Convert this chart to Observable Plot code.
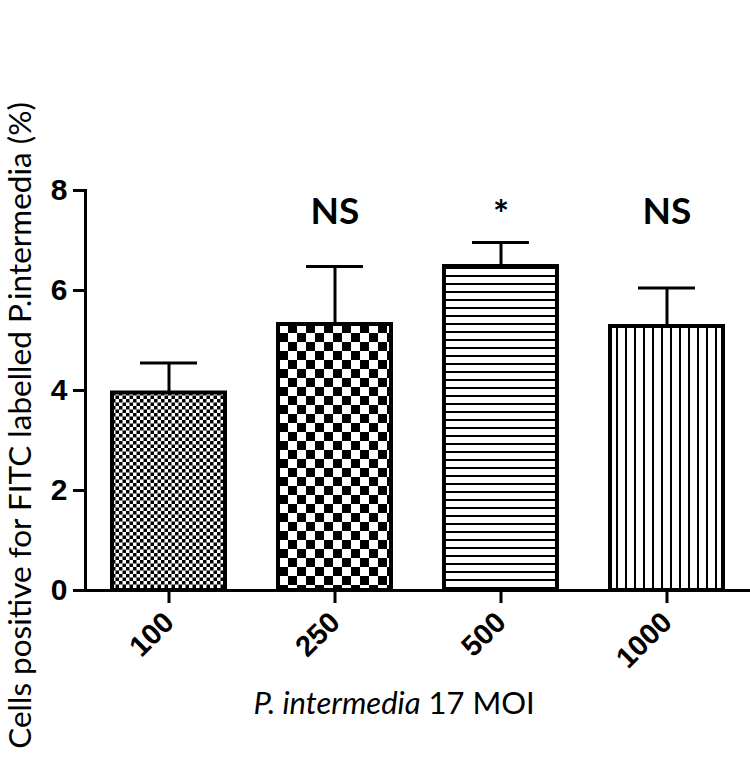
<!DOCTYPE html>
<html>
<head>
<meta charset="utf-8">
<script src="https://cdn.jsdelivr.net/npm/d3@7"></script>
<script src="https://cdn.jsdelivr.net/npm/@observablehq/plot@0.6"></script>
<style>
  html, body { margin: 0; padding: 0; background: #fff; }
  #chart svg { display: block; }
</style>
</head>
<body>
<svg width="0" height="0" style="position:absolute">
  <defs>
    <pattern id="pat0" width="7" height="7" patternUnits="userSpaceOnUse">
      <rect width="7" height="7" fill="#fff"/>
      <rect width="3.5" height="3.5" fill="#000"/>
      <rect x="3.5" y="3.5" width="3.5" height="3.5" fill="#000"/>
    </pattern>
    <pattern id="pat1" width="18" height="18" patternUnits="userSpaceOnUse">
      <rect width="18" height="18" fill="#fff"/>
      <rect width="9" height="9" fill="#000"/>
      <rect x="9" y="9" width="9" height="9" fill="#000"/>
    </pattern>
    <pattern id="pat2" width="8" height="8" patternUnits="userSpaceOnUse">
      <rect width="8" height="8" fill="#fff"/>
      <rect y="3" width="8" height="2" fill="#000"/>
    </pattern>
    <pattern id="pat3" width="9" height="9" patternUnits="userSpaceOnUse">
      <rect width="9" height="9" fill="#fff"/>
      <rect x="4" width="2" height="9" fill="#000"/>
    </pattern>
  </defs>
</svg>
<div id="chart"></div>
<script>
// ---- data ----
const categories = ["100", "250", "500", "1000"];
const means      = [3.95, 5.32, 6.48, 5.28];
const sems       = [0.60, 1.16, 0.48, 0.77];
const sigLabels  = ["", "NS", "*", "NS"];
const yTicks     = [0, 2, 4, 6, 8];
const yLabel     = "Cells positive for FITC labelled P.intermedia (%)";
const xLabelItalic = "P. intermedia";
const xLabelPlain  = "17 MOI";

const patternIds = ["url(#pat0)", "url(#pat1)", "url(#pat2)", "url(#pat3)"];

const data = categories.map((c, i) => ({
  cat: c,
  mean: means[i],
  hi: means[i] + sems[i],
  sig: sigLabels[i],
  pattern: patternIds[i]
}));

const tickFont = "'Liberation Sans', Arial, sans-serif";
const labelFont = "Lato, 'Open Sans', sans-serif";

const chart = Plot.plot({
  width: 750,
  height: 759,
  marginLeft: 85,
  marginRight: 0,
  marginTop: 190,
  marginBottom: 169,
  style: { background: "#fff" },
  x: { domain: categories, paddingInner: 0.32, paddingOuter: 0.163, axis: null },
  y: { domain: [0, 8], axis: null },
  color: { type: "identity" },
  marks: [
    Plot.ruleX(data, { x: "cat", y1: "mean", y2: "hi", stroke: "#000", strokeWidth: 3 }),
    Plot.tickY(data, { x: "cat", y: "hi", stroke: "#000", strokeWidth: 3, insetLeft: 28, insetRight: 28 }),
    Plot.barY(data, { x: "cat", y: "mean", fill: "pattern", stroke: "#000", strokeWidth: 4 }),
    Plot.frame({ anchor: "left", stroke: "#000", strokeWidth: 3 }),
    Plot.frame({ anchor: "bottom", stroke: "#000", strokeWidth: 3 }),
    Plot.axisY({ ticks: yTicks, tickSize: 12, tickPadding: 6, strokeWidth: 3, fontSize: 30, fontWeight: "bold", fontFamily: tickFont, fill: "#000", label: null, tickFormat: d3.format("d") }),
    Plot.axisX({ tickSize: 13, tickRotate: -45, tickPadding: 14, strokeWidth: 3, fontSize: 29, fontWeight: "bold", fontFamily: tickFont, fill: "#000", label: null }),
    Plot.text(data, { filter: d => d.sig === "NS", x: "cat", frameAnchor: "top", dy: 22, lineAnchor: "middle", text: "sig", fontSize: 37, fontWeight: "bold", fontFamily: labelFont, fill: "#000" }),
    Plot.text(data, { filter: d => d.sig === "*", x: "cat", frameAnchor: "top", dy: 25, lineAnchor: "middle", text: "sig", fontSize: 38, fontWeight: "bold", fontFamily: labelFont, fill: "#000" }),
    Plot.text([yLabel], { frameAnchor: "left", dx: -65, dy: 35, rotate: -90, textAnchor: "middle", lineAnchor: "middle", text: d => d, fontSize: 31.5, fontFamily: labelFont, fill: "#000" }),
    Plot.text([xLabelItalic], { frameAnchor: "bottom", dx: 2.5, dy: 114, lineAnchor: "middle", textAnchor: "end", text: d => d, fontSize: 31, fontStyle: "italic", fontFamily: labelFont, fill: "#000" }),
    Plot.text([xLabelPlain], { frameAnchor: "bottom", dx: 10.5, dy: 114, lineAnchor: "middle", textAnchor: "start", text: d => d, fontSize: 31, fontFamily: labelFont, fill: "#000" })
  ]
});
document.getElementById("chart").appendChild(chart);
</script>
</body>
</html>
